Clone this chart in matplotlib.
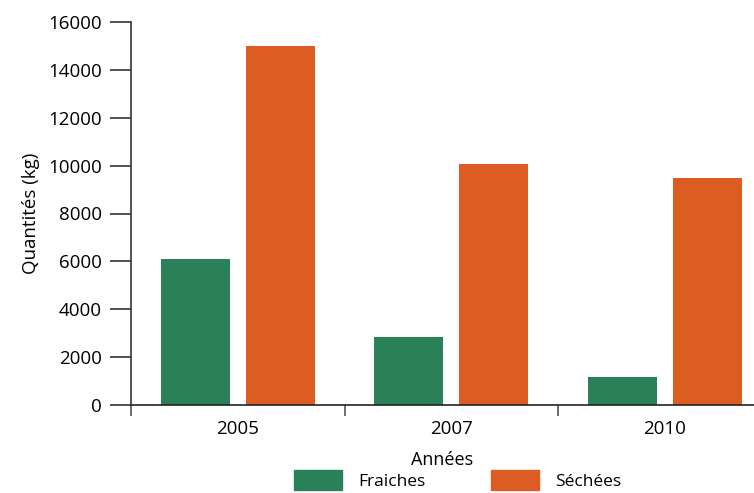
import matplotlib.pyplot as plt
import numpy as np
from matplotlib.patches import Patch

annees = ["2005", "2007", "2010"]
fraiches = [6100, 2850, 1150]
sechees = [15000, 10050, 9500]

vert = "#2A8058"
orange = "#DD5C21"

plt.rcParams['font.family'] = ['Open Sans', 'DejaVu Sans']

fig = plt.figure(figsize=(7.54, 4.93), dpi=100)
ax = fig.add_axes([131 / 754, 1 - 405 / 493, 1 - 131 / 754, (405 - 22) / 493])

x = np.arange(len(annees))
w = 0.323
ax.bar(x - 0.2, fraiches, w, color=vert, zorder=2)
ax.bar(x + 0.2, sechees, w, color=orange, zorder=2)

ax.set_xlim(-0.5, 2.418)
ax.set_ylim(0, 16000)
ax.set_yticks(range(0, 16001, 2000))
ax.set_xticks(x)
ax.set_xticklabels(annees, fontsize=13.5)
ax.set_xticks([-0.5, 0.5, 1.5], minor=True)
ax.tick_params(axis='x', which='major', length=0, pad=11)
ax.tick_params(axis='x', which='minor', length=8, color="#555555", width=1.2)
ax.tick_params(axis='y', length=15, color="#333333", width=1.2, labelsize=13.5, pad=6)

for s in ["top", "right"]:
    ax.spines[s].set_visible(False)
ax.spines["left"].set_color("#333333")
ax.spines["bottom"].set_color("#222222")
ax.spines["left"].set_linewidth(1.2)
ax.spines["bottom"].set_linewidth(1.2)

ax.set_ylabel("Quantités (kg)", fontsize=13.5, labelpad=6)
ax.set_xlabel("Années", fontsize=13, labelpad=9)

handles = [Patch(color=vert, label="Fraiches"), Patch(color=orange, label="Séchées")]
fig.legend(handles=handles, loc="center", bbox_to_anchor=(0.607, 0.026), ncol=2,
           frameon=False, fontsize=12.5, handlelength=2.75, handleheight=1.35,
           handletextpad=0.95, columnspacing=3.8, borderpad=0)

fig.savefig("out.png", dpi=100)
